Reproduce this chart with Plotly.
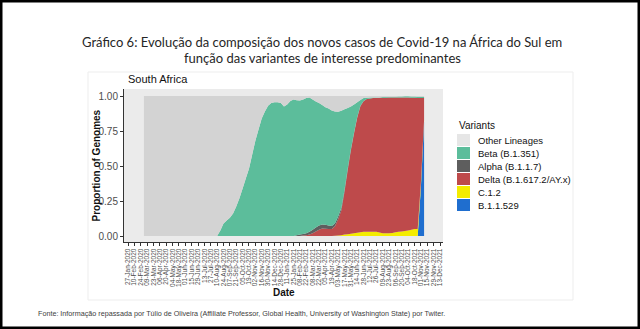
import pandas as pd
import plotly.graph_objects as go

# ---------------- data ----------------
weeks = pd.date_range("2020-03-02", periods=89, freq="7D")

other = [1.0] * 24 + [
    0.96, 0.91, 0.89, 0.87, 0.84, 0.79, 0.73, 0.66, 0.59, 0.52,
    0.42, 0.32, 0.24, 0.16, 0.11, 0.07, 0.05, 0.045, 0.045, 0.05,
    0.075, 0.06, 0.035, 0.025, 0.03, 0.033, 0.025, 0.015, 0.01, 0.025,
    0.04, 0.05, 0.065, 0.08, 0.09, 0.103, 0.11, 0.112, 0.105, 0.095,
    0.085, 0.075, 0.06, 0.045, 0.028, 0.015, 0.012, 0.01, 0.01, 0.01,
    0.01, 0.008, 0.007, 0.007, 0.006, 0.005, 0.004, 0.003, 0.002, 0.002,
    0.003, 0.004, 0.005, 0.005, 0.005]

beta = [0.0] * 24 + [
    0.04, 0.09, 0.11, 0.13, 0.16, 0.21, 0.27, 0.34, 0.41, 0.48,
    0.58, 0.68, 0.76, 0.84, 0.89, 0.93, 0.95, 0.955, 0.955, 0.95,
    0.925, 0.94, 0.965, 0.975, 0.965, 0.957, 0.96, 0.965, 0.96, 0.93,
    0.90, 0.875, 0.852, 0.84, 0.835, 0.825, 0.80, 0.748, 0.695, 0.575,
    0.435, 0.305, 0.20, 0.105, 0.042, 0.02, 0.01, 0.007, 0.005, 0.004,
    0.003, 0.004, 0.005, 0.004, 0.005, 0.005, 0.006, 0.007, 0.008, 0.008,
    0.009, 0.009, 0.01, 0.01, 0.01]

alpha = [0.0] * 48 + [
    0.005, 0.01, 0.012, 0.015, 0.02, 0.025, 0.028, 0.03, 0.03, 0.028,
    0.025, 0.022, 0.02, 0.02, 0.018, 0.015, 0.012, 0.01, 0.008, 0.005,
    0.003, 0.002] + [0.0] * 19

delta = [0.0] * 50 + [
    0.003, 0.005, 0.01, 0.02, 0.032, 0.045, 0.053, 0.052, 0.05, 0.05,
    0.068, 0.116, 0.176, 0.305, 0.455, 0.594, 0.712, 0.821, 0.90, 0.933,
    0.947, 0.952, 0.955, 0.956, 0.962, 0.968, 0.968, 0.969, 0.967, 0.964,
    0.96, 0.958, 0.955, 0.95, 0.943, 0.937, 0.935, 0.605, 0.155]

c12 = [0.0] * 60 + [
    0.002, 0.004, 0.006, 0.01, 0.013, 0.016, 0.02, 0.024, 0.027, 0.03,
    0.031, 0.031, 0.03, 0.03, 0.025, 0.02, 0.02, 0.02, 0.022, 0.026,
    0.03, 0.032, 0.035, 0.04, 0.045, 0.05, 0.05, 0.03, 0.01]

omicron = [0.0] * 87 + [0.35, 0.82]

variant_names = ["Other Lineages", "Beta (B.1.351)", "Alpha (B.1.1.7)",
                 "Delta (B.1.617.2/AY.x)", "C.1.2", "B.1.1.529"]
variant_values = [other, beta, alpha, delta, c12, omicron]
fill_colors = ["#D3D3D3", "#5CBD9B", "#5E5E5E", "#BE4A4B", "#F4EC00", "#1F6ECF"]
key_colors = ["#E6E6E6", "#5CBD9B", "#5E5E5E", "#BE4A4B", "#F4EC00", "#1F6ECF"]

tick_dates = pd.date_range("2020-01-27", "2021-12-13", freq="14D")

# ---------------- figure ----------------
W, H = 640, 329
L, R, T, B = 124, 443, 89, 242  # panel edges in px


def px_x(px):
    return (px - L) / (R - L)


def px_y(py):
    return (B - py) / (B - T)


fig = go.Figure()
# stack from bottom: omicron, C.1.2, delta, alpha, beta, other
for idx in [5, 4, 3, 2, 1, 0]:
    fig.add_trace(go.Scatter(
        x=weeks, y=variant_values[idx], name=variant_names[idx],
        stackgroup="one", mode="none", fillcolor=fill_colors[idx],
        line=dict(width=0), showlegend=False, hoverinfo="x+y+name"))

# x range: tick spacing 312px for 686 days
px_per_day = 312 / 686
x0 = pd.Timestamp("2020-01-27") - pd.Timedelta(days=4 / px_per_day)
x1 = pd.Timestamp("2021-12-13") + pd.Timedelta(days=3 / px_per_day)

fig.update_layout(
    width=W, height=H,
    margin=dict(l=L, r=W - R, t=T, b=H - B),
    paper_bgcolor="white", plot_bgcolor="#EBEBEB",
    font=dict(family="Liberation Sans, Arial, sans-serif", color="#222222"),
    showlegend=False,
    xaxis=dict(
        range=[x0, x1], tickvals=list(tick_dates), tickformat="%d-%b-%Y",
        tickangle=-90, tickfont=dict(size=6.5, color="#4D4D4D"),
        ticks="outside", ticklen=3, tickcolor="#333333",
        showgrid=False, zeroline=False, showline=True, linecolor="#333333",
        linewidth=1),
    yaxis=dict(
        range=[-6 / 140, 1 + 7 / 140], tickvals=[0, 0.25, 0.5, 0.75, 1.0],
        ticktext=["0.00", "0.25", "0.50", "0.75", "1.00"],
        tickfont=dict(size=10, color="#4D4D4D"),
        ticks="outside", ticklen=3, tickcolor="#333333",
        showgrid=False, zeroline=False, showline=True, linecolor="#333333",
        linewidth=1),
)

ann = []


def add_text(text, px, py, size, color="#111111", anchor="left", angle=0, family=None):
    f = dict(size=size, color=color)
    if family:
        f["family"] = family
    ann.append(dict(text=text, xref="paper", yref="paper", x=px_x(px), y=px_y(py),
                    showarrow=False, xanchor=anchor, yanchor="middle",
                    textangle=angle, font=f))


# main title (two lines)
add_text("Gráfico 6: Evolução da composição dos novos casos de Covid-19 na África do Sul em",
         322, 42, 13, "#262626", "center", family="Lato, Noto Sans, sans-serif")
add_text("função das variantes de interesse predominantes",
         322, 58, 13, "#262626", "center", family="Lato, Noto Sans, sans-serif")
# panel title
add_text("South Africa", 126, 79, 11)
# axis titles
add_text("<b>Proportion of Genomes</b>", 96, 165.5, 10, anchor="center", angle=-90)
add_text("<b>Date</b>", 283.5, 292, 10, anchor="center")
# footnote
add_text("Fonte: Informação repassada por Túlio de Oliveira (Affiliate Professor, Global Health, University of Washington State) por Twiter.",
         36, 313, 7.2, "#404040")

# legend (manual, ggplot-style)
shapes = []
add_text("Variants", 457, 125, 10)
for k, name in enumerate(variant_names):
    cy = 140 + 13 * k
    shapes.append(dict(type="rect", xref="paper", yref="paper",
                       x0=px_x(457), x1=px_x(470), y0=px_y(cy + 6), y1=px_y(cy - 6),
                       fillcolor=key_colors[k], line=dict(width=0)))
    add_text(name, 476, cy, 9.5)

# faint inner image frame and black outer border
shapes.append(dict(type="rect", xref="paper", yref="paper",
                   x0=px_x(88), x1=px_x(573), y0=px_y(300), y1=px_y(72),
                   line=dict(color="#EDEDED", width=1), fillcolor="rgba(0,0,0,0)", layer="below"))
shapes.append(dict(type="rect", xref="paper", yref="paper",
                   x0=px_x(1.25), x1=px_x(638.75), y0=px_y(327.75), y1=px_y(1.25),
                   line=dict(color="black", width=2.5), fillcolor="rgba(0,0,0,0)"))

fig.update_layout(annotations=ann, shapes=shapes)
fig.write_html("out.html")
